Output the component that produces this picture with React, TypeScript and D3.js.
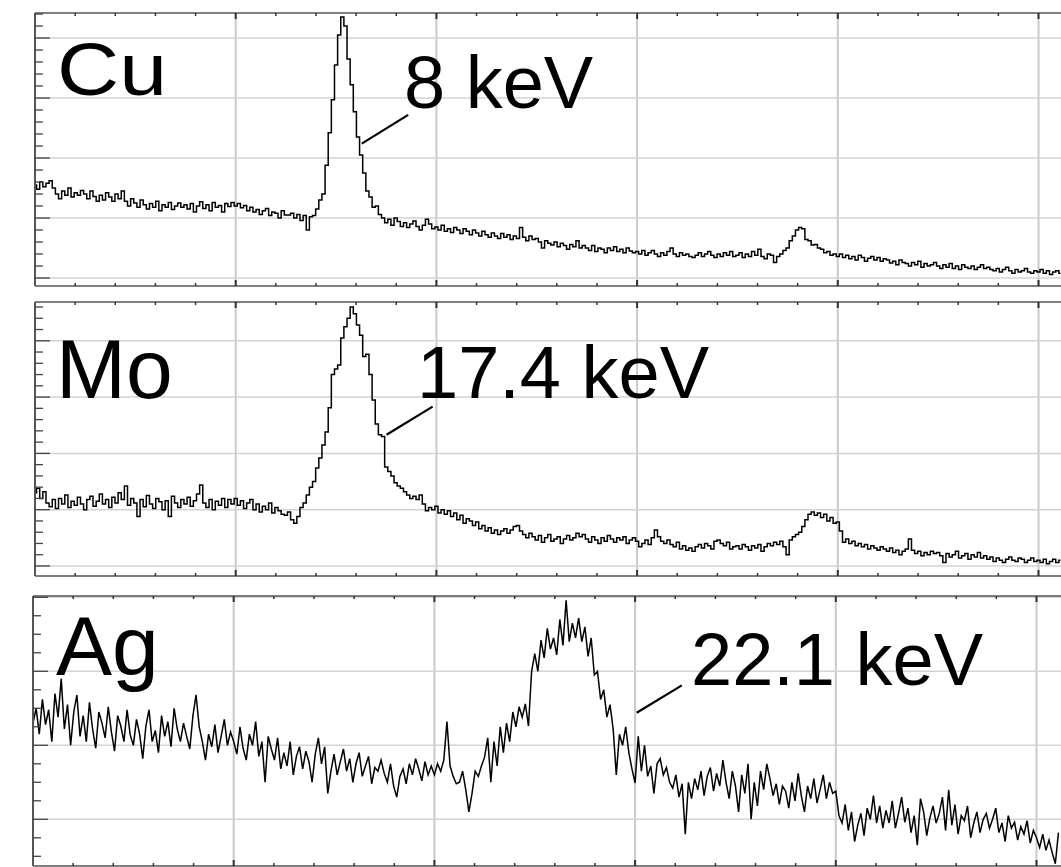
import React, { useEffect, useRef } from 'react';
import * as d3 from 'd3';

const W = 1061;
const H = 867;

// counts per channel (64 channels per major grid division)
const cuCounts = [
  155, 148, 160, 152, 158, 162, 150, 140, 132, 145, 138, 150, 135, 142, 138, 146,
  140, 132, 145, 136, 128, 138, 130, 142, 135, 128, 140, 132, 145, 128, 120, 132,
  125, 118, 130, 122, 115, 124, 118, 128, 112, 122, 118, 126, 114, 120, 125, 118,
  122, 115, 124, 110, 120, 127, 116, 122, 112, 126, 118, 121, 110, 124, 119, 126,
  120, 124, 117, 121, 112, 118, 110, 114, 106, 112, 116, 104, 110, 108, 100, 112,
  105, 105, 108, 100, 106, 96, 104, 80, 102, 104, 115, 130, 140, 188, 242, 297,
  355, 405, 435, 420, 365, 322, 277, 235, 205, 175, 145, 135, 118, 120, 106, 100,
  92, 98, 88, 100, 94, 86, 92, 84, 90, 95, 86, 80, 88, 98, 90, 82,
  85, 80, 88, 78, 82, 76, 84, 80, 74, 82, 78, 72, 80, 75, 70, 78,
  72, 68, 75, 70, 66, 74, 68, 72, 64, 70, 66, 84, 68, 62, 70, 64,
  66, 60, 50, 62, 58, 55, 60, 52, 58, 54, 48, 56, 52, 62, 50, 54,
  50, 46, 54, 44, 50, 48, 42, 50, 46, 52, 44, 48, 42, 50, 45, 42,
  44, 40, 46, 38, 42, 46, 40, 36, 42, 38, 44, 50, 40, 36, 42, 38,
  40, 36, 34, 38, 42, 36, 40, 44, 38, 34, 40, 36, 42, 38, 44, 36,
  38, 42, 34, 40, 36, 44, 38, 48, 36, 32, 40, 38, 26, 36, 40, 46,
  50, 62, 70, 80, 84, 82, 64, 62, 55, 56, 50, 48, 42, 44, 38, 40,
  36, 40, 34, 38, 32, 36, 30, 38, 34, 28, 33, 36, 30, 34, 28, 32,
  30, 25, 28, 22, 30, 26, 24, 20, 26, 22, 28, 18, 24, 20, 22, 26,
  20, 16, 22, 18, 24, 16, 20, 14, 22, 18, 16, 20, 14, 18, 22, 16,
  18, 14, 12, 16, 10, 14, 18, 12, 8, 14, 10, 12, 16, 10, 8, 12,
  10, 14, 8, 12, 6, 10, 12, 8,
];

const moCounts = [
  130, 138, 120, 132, 112, 105, 118, 102, 120, 110, 126, 104, 115, 108, 122, 110,
  100, 118, 124, 106, 115, 128, 110, 118, 104, 122, 112, 130, 118, 142, 108, 120,
  112, 88, 118, 105, 125, 110, 102, 120, 114, 100, 116, 88, 124, 112, 104, 118,
  110, 122, 106, 116, 128, 144, 112, 104, 118, 100, 115, 108, 120, 104, 118, 110,
  120, 108, 116, 102, 112, 118, 100, 110, 96, 106, 100, 112, 94, 104, 98, 92,
  90, 96, 82, 76, 88, 104, 112, 126, 140, 150, 174, 192, 215, 238, 281, 340,
  350, 357, 405, 425, 440, 460, 448, 428, 410, 372, 376, 340, 295, 252, 233, 230,
  176, 168, 160, 148, 142, 138, 132, 126, 120, 124, 118, 126, 110, 98, 104, 100,
  106, 94, 100, 92, 98, 88, 94, 82, 90, 76, 84, 80, 72, 78, 66, 72,
  62, 68, 58, 64, 56, 62, 66, 58, 64, 70, 72, 62, 56, 50, 58, 52,
  46, 54, 42, 50, 56, 44, 48, 52, 40, 48, 54, 46, 50, 58, 52, 56,
  48, 42, 52, 46, 40, 50, 44, 54, 48, 42, 50, 46, 52, 40, 46, 50,
  44, 34, 40, 46, 38, 50, 64, 52, 44, 40, 46, 38, 34, 42, 30, 36,
  28, 32, 26, 34, 38, 32, 40, 36, 30, 44, 46, 40, 36, 42, 30, 34,
  36, 30, 38, 34, 28, 36, 32, 38, 26, 34, 40, 36, 42, 38, 44, 34,
  20, 46, 52, 56, 60, 70, 82, 92, 96, 90, 94, 86, 92, 80, 86, 76,
  78, 62, 42, 48, 40, 44, 36, 40, 34, 38, 30, 36, 32, 28, 34, 30,
  26, 32, 24, 28, 20, 26, 30, 48, 28, 22, 26, 18, 24, 20, 26, 22,
  24, 18, 6, 22, 16, 20, 26, 14, 18, 22, 12, 20, 16, 24, 14, 18,
  12, 16, 8, 14, 10, 6, 12, 16, 10, 8, 14, 12, 6, 10, 14, 8,
  10, 6, 12, 4, 8, 12, 6, 10,
];

const agCounts = [
  230, 250, 215, 262, 228, 248, 205, 270, 238, 290, 222, 255, 200, 245, 268, 212,
  240, 205, 258, 222, 196, 245, 230, 210, 252, 218, 192, 240, 226, 205, 248, 214,
  200, 235, 215, 182, 226, 248, 205, 220, 190, 240, 212, 232, 198, 250, 222, 205,
  230, 212, 195, 240, 268, 225, 205, 180, 215, 198, 228, 190, 212, 235, 200, 218,
  205, 188, 225, 196, 180, 215, 200, 232, 185, 205, 150, 212, 195, 180, 210, 168,
  190, 172, 205, 160, 185, 198, 168, 192, 178, 150, 188, 210, 175, 198, 135, 165,
  188, 160, 178, 195, 165, 182, 150, 175, 190, 158, 172, 185, 148, 170, 165, 180,
  162, 150, 175, 145, 130, 158, 168, 148, 175, 160, 182, 168, 152, 178, 160, 172,
  160, 175, 165, 180, 232, 172, 158, 148, 150, 165, 140, 110, 135, 165, 158, 172,
  184, 210, 150, 205, 172, 225, 190, 230, 205, 245, 225, 252, 238, 256, 226, 300,
  324, 300, 342, 318, 358, 330, 345, 322, 370, 335, 396, 340, 365, 345, 372, 340,
  360, 320, 345, 295, 300, 262, 275, 238, 255, 222, 160, 215, 200, 225, 190, 168,
  149, 212, 165, 200, 158, 172, 135, 175, 182, 160, 170, 150, 142, 160, 130, 148,
  80, 150, 128, 155, 140, 165, 132, 158, 170, 138, 162, 145, 180, 150, 128, 165,
  145, 110, 160, 135, 175, 100, 150, 118, 165, 140, 175, 155, 132, 148, 120, 145,
  138, 115, 150, 125, 162, 132, 110, 145, 128, 155, 122, 140, 160, 128, 150, 135,
  138, 105, 95, 120, 85, 110, 70, 92, 108, 78, 115, 100, 132, 95, 118, 88,
  112, 95, 125, 88, 108, 130, 96, 115, 82, 105, 65, 128, 110, 78, 102, 118,
  95, 108, 130, 85, 140, 92, 120, 80, 105, 98, 118, 75, 95, 110, 82, 100,
  108, 88, 100, 115, 82, 95, 70, 105, 88, 96, 72, 90, 80, 98, 68, 85,
  75, 62, 80, 58, 72, 55, 40, 82,
];

const elements = ['Cu', 'Mo', 'Ag'];
const lineEnergies = ['8 keV', '17.4 keV', '22.1 keV'];
// leader line: from a point on the peak flank to the label [channel, counts]
const leaderFrom = [[104.2, 224], [112.1, 233], [192.5, 244]];
const leaderTo = [[119, 272], [126.8, 283], [206.9, 281]];

const series = [cuCounts, moCounts, agCounts];

// panel layout
const panels = [
  { top: 13, bottom: 286, left: 35, yMin: -13.3, yMax: 441.7, minor: 20, curve: d3.curveStep,
    el: { x: 57, y: 95, size: 74, len: 110 }, en: { x: 404, y: 108 } },
  { top: 302, bottom: 576, left: 35, yMin: -17.8, yMax: 468.9, minor: 20, curve: d3.curveStep,
    el: { x: 56, y: 398, size: 84, len: 0 }, en: { x: 417, y: 398 } },
  { top: 596, bottom: 866, left: 33, yMin: 36.9, yMax: 401.7, minor: 25, curve: d3.curveLinear,
    el: { x: 56, y: 675, size: 84, len: 0 }, en: { x: 691, y: 685 } },
];

const FONT = '"Liberation Sans", Arial, Helvetica, sans-serif';

const App = () => {
  const svgRef = useRef<SVGSVGElement>(null);

  useEffect(() => {
    const svg = d3.select(svgRef.current);
    svg.selectAll('*').remove();

    panels.forEach((p, i) => {
      const x = d3.scaleLinear().domain([0, 384]).range([p.left, p.left + 1204.2]);
      const y = d3.scaleLinear().domain([p.yMin, p.yMax]).range([p.bottom, p.top]);
      const g = svg.append('g');

      const xMajor = d3.range(0, 385, 64).filter(v => x(v) < W + 5);
      const xMinor = d3.range(0, 385, 12.8).filter(v => x(v) < W + 5);
      const yMajor = d3.range(Math.ceil(p.yMin / 100) * 100, p.yMax, 100);
      const yMinor = d3.range(Math.ceil(p.yMin / p.minor) * p.minor, p.yMax, p.minor);

      // grid
      g.selectAll('.vg').data(xMajor.filter(v => v > 0)).enter().append('line')
        .attr('x1', d => x(d)).attr('x2', d => x(d))
        .attr('y1', p.top).attr('y2', p.bottom)
        .attr('stroke', '#c9c9c9').attr('stroke-width', 2);
      g.selectAll('.hg').data(yMajor).enter().append('line')
        .attr('x1', p.left).attr('x2', W + 5)
        .attr('y1', d => y(d)).attr('y2', d => y(d))
        .attr('stroke', '#d3d3d3').attr('stroke-width', 1.5);

      // spectrum
      const clipId = `clip-${i}`;
      svg.append('clipPath').attr('id', clipId).append('rect')
        .attr('x', p.left).attr('y', p.top).attr('width', W).attr('height', p.bottom - p.top);
      const line = d3.line<number>()
        .x((_, k) => x(k))
        .y(d => y(d))
        .curve(p.curve);
      g.append('path')
        .datum(series[i])
        .attr('d', line)
        .attr('fill', 'none')
        .attr('stroke', '#000')
        .attr('stroke-width', 1.5)
        .attr('stroke-linejoin', 'miter')
        .attr('clip-path', `url(#${clipId})`);

      // frame
      g.append('line').attr('x1', p.left).attr('x2', W + 5)
        .attr('y1', p.top).attr('y2', p.top).attr('stroke', '#555').attr('stroke-width', 1.5);
      g.append('line').attr('x1', p.left).attr('x2', W + 5)
        .attr('y1', p.bottom).attr('y2', p.bottom).attr('stroke', '#555').attr('stroke-width', 1.5);
      g.append('line').attr('x1', p.left).attr('x2', p.left)
        .attr('y1', p.top).attr('y2', p.bottom).attr('stroke', '#555').attr('stroke-width', 2);

      // ticks
      const isMajorX = (v: number) => Math.abs(v / 64 - Math.round(v / 64)) < 1e-6;
      g.selectAll('.tt').data(xMinor.filter(v => v > 0)).enter().append('line')
        .attr('x1', d => x(d)).attr('x2', d => x(d))
        .attr('y1', p.top).attr('y2', d => p.top + (isMajorX(d) ? 6 : 3))
        .attr('stroke', '#333').attr('stroke-width', d => (isMajorX(d) ? 2 : 1.5));
      g.selectAll('.bt').data(xMinor.filter(v => v > 0)).enter().append('line')
        .attr('x1', d => x(d)).attr('x2', d => x(d))
        .attr('y1', p.bottom).attr('y2', d => p.bottom - (isMajorX(d) ? 6 : 3))
        .attr('stroke', '#333').attr('stroke-width', d => (isMajorX(d) ? 2 : 1.5));
      const isMajorY = (v: number) => Math.abs(v / 100 - Math.round(v / 100)) < 1e-6;
      g.selectAll('.lt').data(yMinor).enter().append('line')
        .attr('x1', p.left).attr('x2', d => p.left + (isMajorY(d) ? 15 : 8))
        .attr('y1', d => y(d)).attr('y2', d => y(d))
        .attr('stroke', '#444').attr('stroke-width', 1.3);

      // labels
      const el = g.append('text')
        .attr('x', p.el.x).attr('y', p.el.y)
        .attr('font-family', FONT).attr('font-size', p.el.size)
        .attr('fill', '#000')
        .text(elements[i]);
      if (p.el.len) el.attr('textLength', p.el.len).attr('lengthAdjust', 'spacingAndGlyphs');

      g.append('text')
        .attr('x', p.en.x).attr('y', p.en.y)
        .attr('font-family', FONT).attr('font-size', 74)
        .attr('fill', '#000')
        .text(lineEnergies[i]);

      g.append('line')
        .attr('x1', x(leaderFrom[i][0])).attr('y1', y(leaderFrom[i][1]))
        .attr('x2', x(leaderTo[i][0])).attr('y2', y(leaderTo[i][1]))
        .attr('stroke', '#000').attr('stroke-width', 2.2);
    });
  }, []);

  return (
    <svg ref={svgRef} width={W} height={H}
      style={{ position: 'absolute', left: 0, top: 0, background: '#fff' }} />
  );
};

export default App;
